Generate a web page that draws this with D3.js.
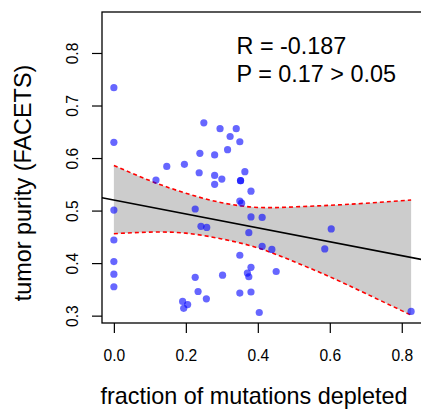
<!DOCTYPE html>
<html lang="en">
<head>
  <meta charset="UTF-8" />
  <title>Tumor purity vs fraction of mutations depleted</title>
  <script src="https://d3js.org/d3.v7.min.js"></script>
  <style>
    body { margin: 0; background: #fff; }
    svg { display: block; font-family: "Liberation Sans", Arial, Helvetica, sans-serif; }
  </style>
</head>
<body>
  <svg id="chart" width="421" height="413"></svg>

  <script>
    // points
    const fraction = [0, 0, 0, 0, 0, 0, 0,
      0.117, 0.147, 0.191, 0.194, 0.196, 0.205, 0.226, 0.226, 0.234, 0.237,
      0.239, 0.242, 0.250, 0.257, 0.258, 0.280, 0.280, 0.280, 0.295, 0.300,
      0.302, 0.316, 0.323, 0.340, 0.350, 0.350, 0.350, 0.350, 0.352, 0.352,
      0.355, 0.364, 0.371, 0.375, 0.375, 0.381, 0.381, 0.381, 0.381, 0.404,
      0.412, 0.412, 0.439, 0.451, 0.586, 0.604, 0.826];
    const purity = [0.734, 0.630, 0.501, 0.444, 0.403, 0.379, 0.355,
      0.558, 0.584, 0.327, 0.314, 0.588, 0.321, 0.503, 0.373, 0.346, 0.572,
      0.609, 0.470, 0.667, 0.332, 0.468, 0.606, 0.567, 0.550, 0.656, 0.560,
      0.377, 0.616, 0.641, 0.656, 0.631, 0.518, 0.415, 0.343, 0.557, 0.557,
      0.514, 0.574, 0.381, 0.458, 0.374, 0.537, 0.488, 0.392, 0.345, 0.306,
      0.487, 0.432, 0.426, 0.384, 0.427, 0.465, 0.308];

    // fitted line and its confidence band
    const fitIntercept = 0.520;
    const fitSlope = -0.1323;
    const bandX    = [0, 0.1, 0.2, 0.3, 0.4, 0.5, 0.6, 0.7, 0.826];
    const bandHigh = [0.586, 0.557, 0.533, 0.515, 0.506, 0.507, 0.510, 0.514, 0.520];
    const bandLow  = [0.456, 0.459, 0.457, 0.446, 0.429, 0.403, 0.374, 0.342, 0.301];

    const xTicks = [0, 0.2, 0.4, 0.6, 0.8];
    const yTicks = [0.3, 0.4, 0.5, 0.6, 0.7, 0.8];
    const statLines = ["R = -0.187", "P = 0.17 > 0.05"];

    const margin = { top: 12, left: 102 },
          width = 321,
          height = 311;

    const svg = d3.select("#chart");

    const x = d3.scaleLinear()
      .domain([-0.033, 0.859])
      .range([margin.left, margin.left + width]);

    const y = d3.scaleLinear()
      .domain([0.286, 0.878])
      .range([margin.top + height, margin.top]);

    // grey band
    const band = bandX.map((v, i) => ({ x: v, lo: bandLow[i], hi: bandHigh[i] }));

    svg.append("path")
      .datum(band)
      .attr("fill", "#cccccc")
      .attr("d", d3.area()
        .curve(d3.curveNatural)
        .x(d => x(d.x))
        .y0(d => y(d.lo))
        .y1(d => y(d.hi)));

    ["lo", "hi"].forEach(k => {
      svg.append("path")
        .datum(band)
        .attr("fill", "none")
        .attr("stroke", "red")
        .attr("stroke-width", 1.6)
        .attr("stroke-dasharray", "4,3")
        .attr("d", d3.line()
          .curve(d3.curveNatural)
          .x(d => x(d.x))
          .y(d => y(d[k])));
    });

    // regression line over whole plot width
    const [x0, x1] = x.domain();
    svg.append("line")
      .attr("x1", x(x0)).attr("y1", y(fitIntercept + fitSlope * x0))
      .attr("x2", x(x1)).attr("y2", y(fitIntercept + fitSlope * x1))
      .attr("stroke", "black")
      .attr("stroke-width", 1.5);

    // points
    svg.selectAll("circle")
      .data(fraction.map((f, i) => [f, purity[i]]))
      .join("circle")
      .attr("cx", d => x(d[0]))
      .attr("cy", d => y(d[1]))
      .attr("r", 3.6)
      .attr("fill", "blue")
      .attr("fill-opacity", 0.6);

    // box
    svg.append("rect")
      .attr("x", margin.left)
      .attr("y", margin.top)
      .attr("width", width)
      .attr("height", height)
      .attr("fill", "none")
      .attr("stroke", "black")
      .attr("stroke-width", 1.3);

    // axes
    const xAxis = svg.append("g")
      .attr("transform", `translate(0,${margin.top + height})`)
      .call(d3.axisBottom(x).tickValues(xTicks).tickFormat(d3.format(".1f"))
        .tickSize(10).tickPadding(16.5));
    xAxis.select(".domain").remove();

    const yAxis = svg.append("g")
      .attr("transform", `translate(${margin.left},0)`)
      .call(d3.axisLeft(y).tickValues(yTicks).tickFormat(d3.format(".1f")).tickSize(10));
    yAxis.select(".domain").remove();
    yAxis.selectAll("text")
      .attr("x", null).attr("dy", null)
      .attr("text-anchor", "middle")
      .attr("transform", "translate(-24,0) rotate(-90)");

    svg.selectAll(".tick line").attr("stroke", "black").attr("stroke-width", 1.2);
    svg.selectAll(".tick text").attr("fill", "black")
      .style("font-size", "15.6px")
      .style("font-family", "'Liberation Sans', Arial, Helvetica, sans-serif");

    // axis titles
    svg.append("text")
      .attr("x", 254)
      .attr("y", 404)
      .attr("text-anchor", "middle")
      .style("font-size", "23.4px")
      .text("fraction of mutations depleted");

    svg.append("text")
      .attr("transform", "translate(31,183) rotate(-90)")
      .attr("text-anchor", "middle")
      .style("font-size", "23.4px")
      .text("tumor purity (FACETS)");

    // stats
    svg.selectAll(".stat")
      .data(statLines)
      .join("text")
      .attr("class", "stat")
      .attr("x", 236.5)
      .attr("y", (d, i) => 54 + i * 27.7)
      .style("font-size", "23.4px")
      .text(d => d);
  </script>
</body>
</html>
